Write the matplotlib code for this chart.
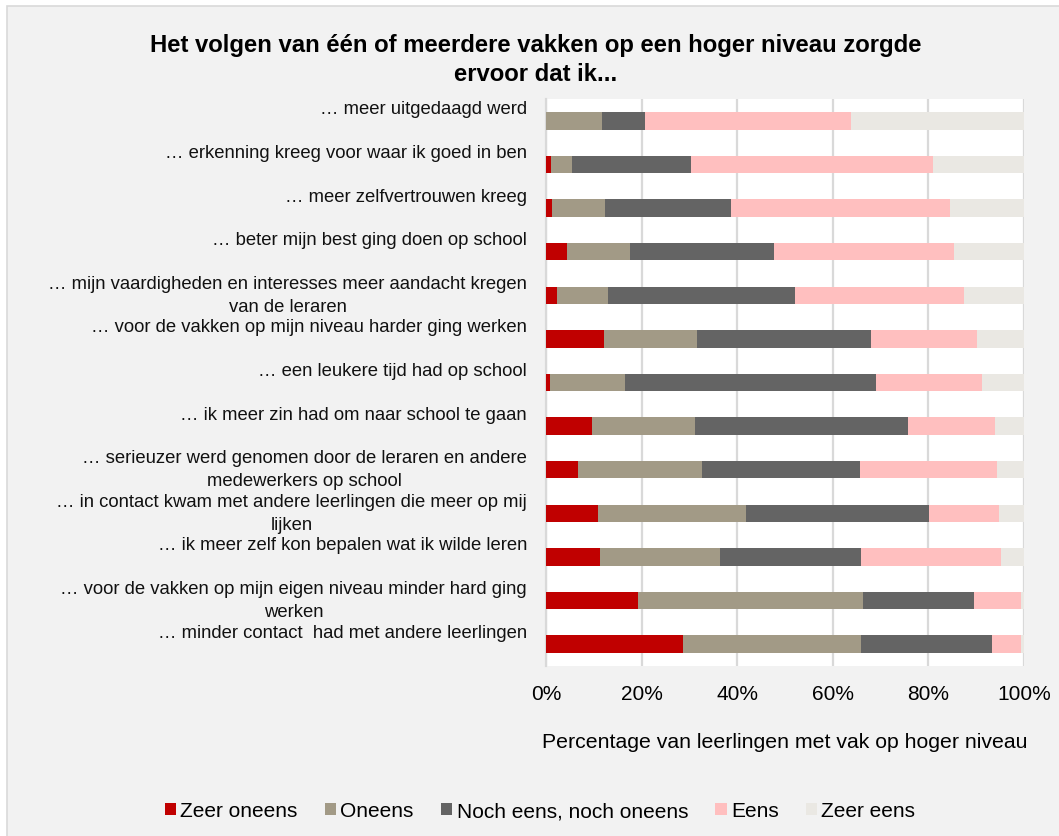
import matplotlib.pyplot as plt
import matplotlib.transforms as mtransforms
from matplotlib.patches import Rectangle
import numpy as np

plt.rcParams['font.family'] = ['Liberation Sans', 'DejaVu Sans']

labels = [
    "… meer uitgedaagd werd",
    "… erkenning kreeg voor waar ik goed in ben",
    "… meer zelfvertrouwen kreeg",
    "… beter mijn best ging doen op school",
    "… mijn vaardigheden en interesses meer aandacht kregen\nvan de leraren",
    "… voor de vakken op mijn niveau harder ging werken",
    "… een leukere tijd had op school",
    "… ik meer zin had om naar school te gaan",
    "… serieuzer werd genomen door de leraren en andere\nmedewerkers op school",
    "… in contact kwam met andere leerlingen die meer op mij\nlijken",
    "… ik meer zelf kon bepalen wat ik wilde leren",
    "… voor de vakken op mijn eigen niveau minder hard ging\nwerken",
    "… minder contact  had met andere leerlingen",
]

zeer_oneens = [0.0, 1.0, 1.3, 4.4, 2.3, 12.2, 0.8, 9.6, 6.6, 10.9, 11.2, 19.3, 28.7]
oneens = [11.7, 4.4, 11.1, 13.2, 10.7, 19.4, 15.8, 21.6, 26.1, 30.9, 25.3, 47.1, 37.1]
noch = [9.0, 25.0, 26.4, 30.2, 39.0, 36.3, 52.5, 44.6, 32.9, 38.4, 29.3, 23.1, 27.5]
eens = [43.2, 50.5, 45.8, 37.5, 35.4, 22.2, 22.2, 18.1, 28.8, 14.5, 29.3, 9.8, 6.0]
zeer_eens = [36.1, 19.1, 15.4, 14.7, 12.6, 9.9, 8.7, 6.1, 5.6, 5.3, 4.9, 0.7, 0.7]

series = [zeer_oneens, oneens, noch, eens, zeer_eens]
names = ["Zeer oneens", "Oneens", "Noch eens, noch oneens", "Eens", "Zeer eens"]
colors = ["#c00000", "#a29a86", "#646464", "#ffbfbf", "#eae8e3"]

fig = plt.figure(figsize=(10.59, 8.37), dpi=100, facecolor='white')
# chart area background with border (behind the axes)
fig.patches.append(Rectangle((7/1059, -0.01), 1.02, 1 - 7/837 + 0.01, transform=fig.transFigure,
                             facecolor='#f2f2f2', edgecolor='#d9d9d9', lw=1.2, zorder=-10))

ax = fig.add_axes([546/1059, 1 - 667/837, 478/1059, 567/837])
ax.set_facecolor('white')

y = np.arange(len(labels))
left = np.zeros(len(labels))
for vals, name, c in zip(series, names, colors):
    ax.barh(y, vals, left=left, height=0.4, color=c, label=name, zorder=3)
    left += np.array(vals)

ax.set_xlim(0, 100)
ax.set_ylim(len(labels) - 0.5, -0.5)
ax.set_xticks([0, 20, 40, 60, 80, 100])
ax.set_xticklabels(["0%", "20%", "40%", "60%", "80%", "100%"], fontsize=15)
ax.tick_params(axis='x', length=0, pad=13)
ax.set_yticks([])
ax.grid(axis='x', color='#d9d9d9', lw=1.6, zorder=0)
for s in ['top', 'right', 'bottom']:
    ax.spines[s].set_visible(False)
ax.spines['left'].set_color('#d9d9d9')
ax.spines['left'].set_linewidth(1.6)

# category labels, top aligned like the original
trans = mtransforms.blended_transform_factory(ax.transAxes, ax.transData)
for i, lab in enumerate(labels):
    ax.text(-19/478, i - 0.47, lab, transform=trans, ha='right', va='top',
            multialignment='center', fontsize=13.3, color='#111111', linespacing=1.45)

ax.set_xlabel("Percentage van leerlingen met vak op hoger niveau", fontsize=15.3, labelpad=21)

fig.text(536/1059, 1 - 60/837, "Het volgen van één of meerdere vakken op een hoger niveau zorgde\nervoor dat ik...",
         ha='center', va='center', fontsize=17.2, fontweight='bold', multialignment='center',
         linespacing=1.35)

fig.legend(loc='center', bbox_to_anchor=(540/1059, 1 - 812/837), ncol=5, frameon=False,
           fontsize=15, handlelength=0.55, handleheight=0.55, handletextpad=0.2, columnspacing=1.3)

fig.savefig('out.png', dpi=100, facecolor=fig.get_facecolor())
